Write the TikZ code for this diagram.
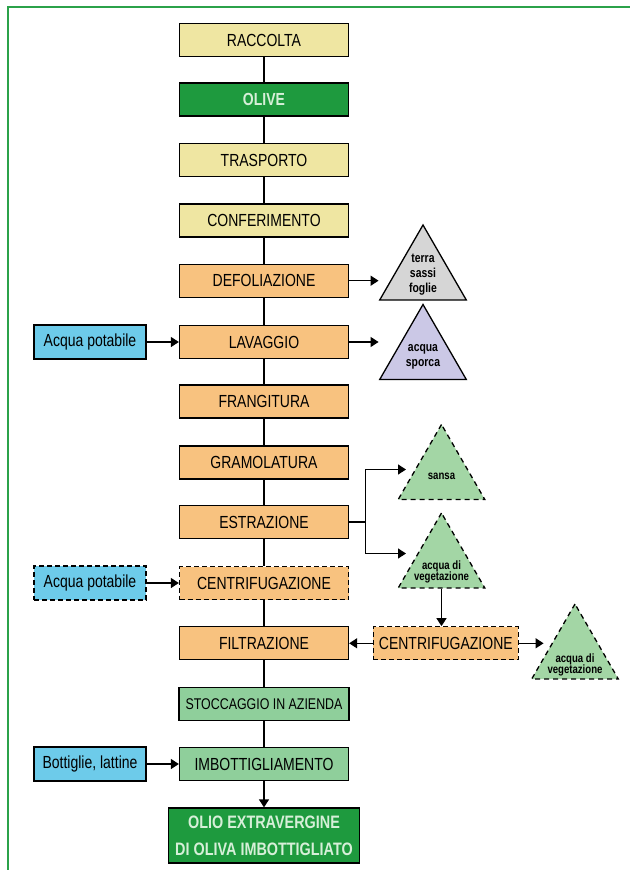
\documentclass[tikz,border=0pt]{standalone}
\usepackage{fontspec}
\setmainfont{Liberation Sans}[FakeStretch=0.8]
\usetikzlibrary{shapes.geometric,arrows.meta}

\definecolor{framegreen}{HTML}{2BA24A}
\definecolor{yellowbox}{HTML}{EFE6A2}
\definecolor{orangebox}{HTML}{F8C27F}
\definecolor{bluebox}{HTML}{6DCBEA}
\definecolor{greenbox}{HTML}{8FCF9B}
\definecolor{darkgreenbox}{HTML}{1E9A3E}
\definecolor{palegreen}{HTML}{D6EFD8}
\definecolor{graytri}{HTML}{D6D6D6}
\definecolor{lilactri}{HTML}{CBC8E6}
\definecolor{greentri}{HTML}{A3D6A5}

\begin{document}
\begin{tikzpicture}[x=1pt,y=-1pt,
    box/.style={draw,line width=1.3pt,minimum width=169pt,minimum height=33pt,inner sep=0pt,
        font=\fontsize{17.5}{20}\selectfont},
    sidebox/.style={box,fill=bluebox,minimum width=112pt,minimum height=34pt},
    dashbox/.style={dash pattern=on 5pt off 3pt},
    tri/.style={draw,line width=1.3pt,regular polygon,regular polygon sides=3,minimum size=100pt,inner sep=0pt},
    dashtri/.style={tri,fill=greentri,dash pattern=on 5pt off 4pt},
    trifont/.style={font=\fontsize{13}{15}\bfseries,align=center},
    smalltri/.style={font=\fontsize{12}{11.5}\bfseries,align=center},
    arr/.style={line width=1.3pt,-{Triangle[length=8pt,width=10pt]}}]
    \useasboundingbox (0,0) rectangle (630,870);
    % Green frame (open on the right and bottom)
    \draw [framegreen,line width=1.3pt] (8,870) -- (8,7) -- (630,7);

    % Main column
    \node[box,fill=yellowbox] (raccolta) at (264,40) {RACCOLTA};
    \node[box,fill=darkgreenbox,text=palegreen,font=\fontsize{17.5}{20}\bfseries] (olive) at (264,99.5) {OLIVE};
    \node[box,fill=yellowbox] (trasporto) at (264,160.3) {TRASPORTO};
    \node[box,fill=yellowbox] (conferimento) at (264,220.5) {CONFERIMENTO};
    \node[box,fill=orangebox] (defoliazione) at (264,280.7) {DEFOLIAZIONE};
    \node[box,fill=orangebox] (lavaggio) at (264,342) {LAVAGGIO};
    \node[box,fill=orangebox] (frangitura) at (264,401.5) {FRANGITURA};
    \node[box,fill=orangebox] (gramolatura) at (264,462.5) {GRAMOLATURA};
    \node[box,fill=orangebox] (estrazione) at (264,522) {ESTRAZIONE};
    \node[box,dashbox,fill=orangebox] (centrifuga) at (264,583) {CENTRIFUGAZIONE};
    \node[box,fill=orangebox] (filtrazione) at (264,643.3) {FILTRAZIONE};
    \node[box,fill=greenbox,minimum width=170pt,font=\fontsize{15.5}{18}\selectfont] (stoccaggio) at (264,704) {STOCCAGGIO IN AZIENDA};
    \node[box,fill=greenbox] (imbottiglia) at (264,764) {IMBOTTIGLIAMENTO};
    \node[box,fill=darkgreenbox,text=palegreen,minimum width=191pt,minimum height=55pt,align=center,
        font=\fontsize{18}{27}\bfseries] (olio) at (264,835.5) {OLIO EXTRAVERGINE\\DI OLIVA IMBOTTIGLIATO};

    % Inputs on the left
    \node[sidebox] (acqua) at (90,342) {Acqua potabile};
    \node[sidebox,dashbox] (acquadue) at (90,583) {Acqua potabile};
    \node[sidebox] (bottiglie) at (90,764) {Bottiglie, lattine};

    % Waste triangles
    \node[tri,fill=graytri,label={[trifont]center:terra\\sassi\\foglie}] (terra) at (423,275) {};
    \node[tri,fill=lilactri,label={[trifont,yshift=-2pt]center:acqua\\sporca}] (sporca) at (423,354.5) {};
    \node[dashtri,label={[smalltri,yshift=-2pt]center:sansa}] (sansa) at (441.5,474.5) {};
    \node[dashtri,label={[smalltri,yshift=-9pt]center:acqua di\\vegetazione}] (vegeta) at (441.5,563) {};
    \node[box,dashbox,fill=orangebox,minimum width=145pt] (centrifugadue) at (445.8,643.3) {CENTRIFUGAZIONE};
    \node[dashtri,label={[smalltri,yshift=-11pt]center:acqua di\\vegetazione}] (vegetadue) at (575,654) {};

    % Main line
    \foreach \a/\b in {raccolta/olive,olive/trasporto,trasporto/conferimento,conferimento/defoliazione,
        defoliazione/lavaggio,lavaggio/frangitura,frangitura/gramolatura,gramolatura/estrazione,
        estrazione/centrifuga,centrifuga/filtrazione,filtrazione/stoccaggio,stoccaggio/imbottiglia}
        \draw [line width=1.3pt] (\a.south) -- (\b.north);
    \draw [arr] (imbottiglia.south) -- (olio.north);

    % Side arrows
    \draw [arr] (acqua.east) -- (lavaggio.west);
    \draw [arr] (acquadue.east) -- (centrifuga.west);
    \draw [arr] (bottiglie.east) -- (imbottiglia.west);
    \draw [arr] (defoliazione.east) -- (defoliazione.east -| terra.corner 2);
    \draw [arr] (lavaggio.east) -- (lavaggio.east -| sporca.corner 2);
    \coordinate (split) at (365.5,522);
    \coordinate (sansain) at (406,469.5);
    \coordinate (vegetain) at (406,553.5);
    \draw [line width=1.3pt] (estrazione.east) -- (split);
    \draw [arr] (split) |- (sansain);
    \draw [arr] (split) |- (vegetain);
    \draw [arr] (vegeta.south) -- (vegeta.south |- centrifugadue.north);
    \draw [arr] (centrifugadue.west) -- (filtrazione.east);
    \draw [arr] (centrifugadue.east) -- ([xshift=13pt]centrifugadue.east -| vegetadue.corner 2);
\end{tikzpicture}
\end{document}
